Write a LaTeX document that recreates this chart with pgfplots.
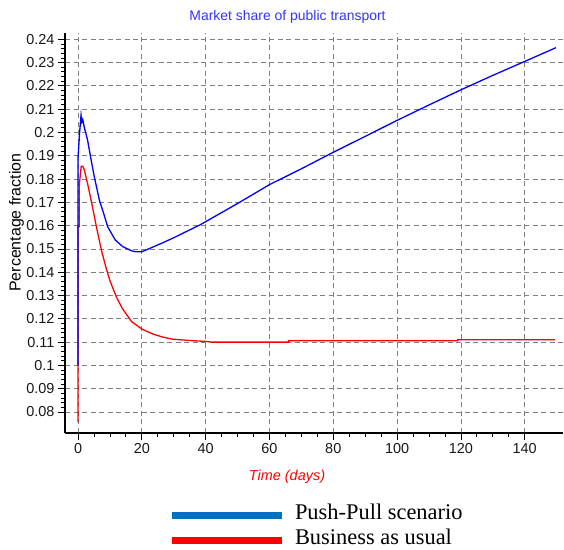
\documentclass[border=0pt]{standalone}
\usepackage{fontspec}
\setmainfont{Liberation Sans}
\newfontfamily\legfont{Liberation Serif}
\usepackage{pgfplots}
\pgfplotsset{compat=1.18}
\definecolor{titleblue}{RGB}{51,51,255}
\definecolor{legblue}{RGB}{0,112,192}
\definecolor{gridgray}{RGB}{128,128,128}
\begin{document}
\begin{tikzpicture}
\useasboundingbox (0,0) rectangle (564bp,550bp);
\begin{axis}[
  at={(65bp,117bp)}, anchor=south west,
  scale only axis, width=498bp, height=400bp,
  xmin=-4.08, xmax=152, ymin=0.07098, ymax=0.2427,
  axis x line*=bottom, axis y line*=left,
  axis line style={line width=1.5bp, black},
  xtick={0,20,40,60,80,100,120,140},
  ytick={0.08,0.09,0.10,0.11,0.12,0.13,0.14,0.15,0.16,0.17,0.18,0.19,0.20,0.21,0.22,0.23,0.24},
  minor x tick num=3, minor y tick num=4,
  tick align=outside,
  major tick length=7bp, minor tick length=4bp,
  tick style={black, line width=0.8bp},
  grid=major,
  major grid style={gridgray, line width=0.8bp, dash pattern=on 5bp off 3.5bp},
  ticklabel style={font=\fontsize{14.5}{16}\selectfont, text=black!90},
  /pgf/number format/assume math mode=true,
  yticklabel style={/pgf/number format/fixed, /pgf/number format/precision=2},
  scaled y ticks=false,
  title={Market share of public transport},
  title style={at={(0.4468,1.025)}, anchor=center, font=\fontsize{14}{16}\selectfont, text=titleblue},
  xlabel={Time (days)},
  xlabel style={at={(0.4458,-0.11)}, anchor=center, font=\itshape\fontsize{14.5}{16}\selectfont, text=red},
  ylabel={Percentage fraction},
  ylabel style={at={(-0.0974,0.526)}, anchor=center, font=\fontsize{16}{18}\selectfont},
  legend style={at={(0.2069,-0.17375)}, anchor=north west, draw=none, fill=none,
    inner sep=0pt, outer sep=0pt, column sep=10bp, row sep=0pt,
    font=\legfont\fontsize{22.5}{25}\selectfont,
    nodes={inner sep=0pt, text height=17bp, text depth=8bp}},
  legend cell align=left,
  legend image code/.code={\draw[#1, line width=7bp] (0bp,0bp) -- (110bp,0bp);},
]
% Business as usual
\addplot[red, line width=1.3bp, forget plot] coordinates {
(0,0.0757) (0,0.1595) (0.4,0.1595) (0.4,0.1774) (1,0.1855) (1.5,0.1855)
(2,0.1838) (3,0.1780) (4.1,0.1709) (5,0.1648) (6.2,0.1566) (7.5,0.1485)
(9,0.1409) (10,0.1364) (12,0.1294) (14,0.1242) (16.8,0.1188) (20,0.1156)
(23.6,0.1134) (26.5,0.1122) (29.4,0.1113) (33,0.1109) (36,0.1106) (40,0.1103)
(42,0.1100) (66,0.1100) (66,0.1106) (119,0.1106) (119,0.1110) (149.5,0.1110)
};
% Push-Pull scenario
\addplot[blue, line width=1.3bp, forget plot] coordinates {
(0,0.100) (0,0.189) (0.5,0.200) (0.95,0.2074) (1.2,0.2045) (1.5,0.2055)
(2,0.2020) (3,0.1967) (4,0.1890) (5.1,0.1810) (6.7,0.1709) (8,0.1654)
(9.3,0.1595) (11.7,0.1538) (14,0.1510) (16.8,0.1492) (18,0.1488) (20,0.1488)
(22.6,0.1503) (26,0.1523) (30,0.1548) (34,0.1575) (38.2,0.1603) (40,0.1617)
(50,0.1695) (60,0.1776) (70,0.1844) (80,0.1915) (90,0.1983) (100,0.2052)
(110,0.2118) (120,0.2183) (130,0.2245) (140,0.2305) (149.8,0.2364)
};
\addlegendimage{legblue}
\addlegendentry{Push-Pull scenario}
\addlegendimage{red}
\addlegendentry{Business as usual}
\end{axis}
\end{tikzpicture}
\end{document}
